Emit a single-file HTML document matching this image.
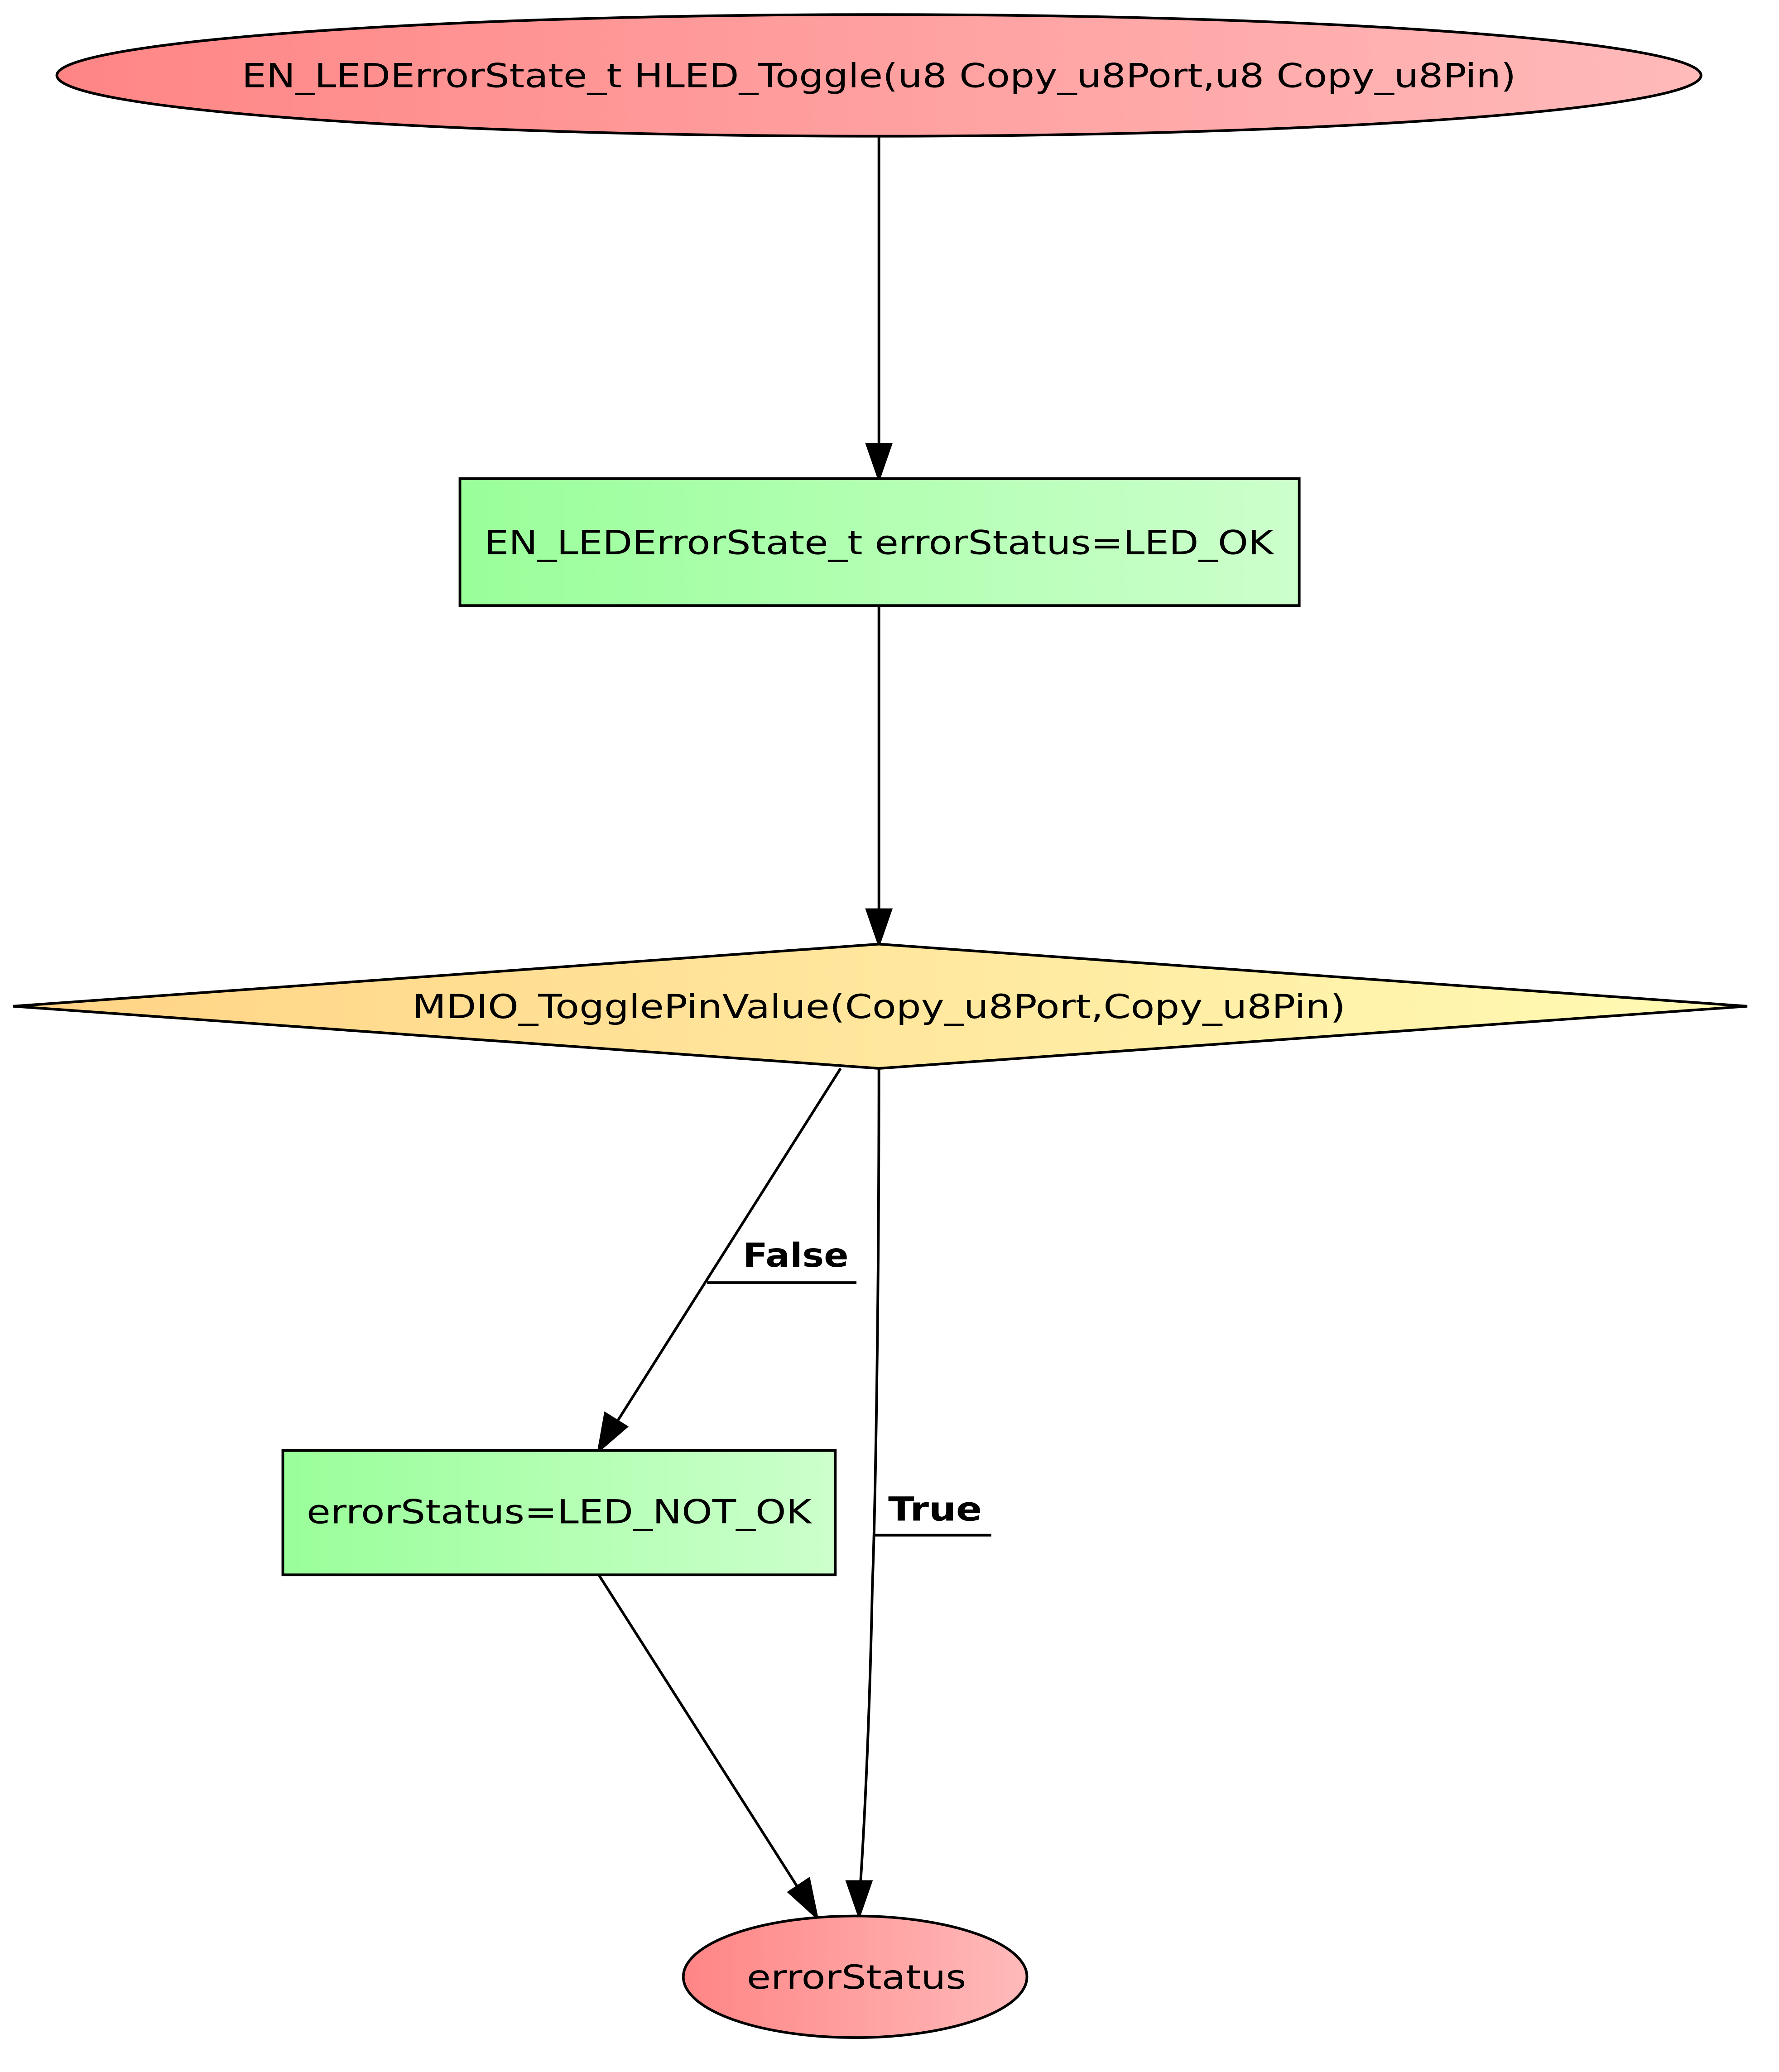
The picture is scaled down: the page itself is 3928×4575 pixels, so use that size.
<!DOCTYPE html>
<html><head><meta charset="utf-8"><style>
html,body{margin:0;padding:0;background:#fff;}
svg{display:block;}
text{font-family:"DejaVu Sans","Liberation Sans",sans-serif;}
</style></head><body>
<svg width="3928" height="4575" viewBox="0 0 1346 1567" preserveAspectRatio="none" xmlns="http://www.w3.org/2000/svg">
<defs>
<linearGradient id="gr" x1="0" x2="1" y1="0" y2="0"><stop offset="0" stop-color="#ff8585"/><stop offset="1" stop-color="#ffbaba"/></linearGradient>
<linearGradient id="gg" x1="0" x2="1" y1="0" y2="0"><stop offset="0" stop-color="#99ff99"/><stop offset="1" stop-color="#ccffcc"/></linearGradient>
<linearGradient id="gy" x1="0" x2="1" y1="0" y2="0"><stop offset="0" stop-color="#ffd385"/><stop offset="1" stop-color="#fffbb5"/></linearGradient>
</defs>
<g stroke="#000" stroke-width="2" fill="none">
<line x1="665" y1="103" x2="665" y2="338"/>
<line x1="665" y1="458" x2="665" y2="690"/>
<line x1="636" y1="808" x2="467" y2="1075"/>
<path d="M665 808 C665 1000 662 1150 660 1200 C658 1300 654 1380 651 1425"/>
<line x1="453" y1="1191" x2="604" y2="1428"/>
<line x1="535" y1="970" x2="648" y2="970"/>
<line x1="662" y1="1161" x2="750" y2="1161"/>
</g>
<g fill="#000" stroke="#000" stroke-width="2">
<polygon points="656,336 674,336 665,362"/>
<polygon points="656,688 674,688 665,714"/>
<polygon points="458,1069 474,1079 453,1097"/>
<polygon points="641,1423 659,1423 650,1449"/>
<polygon points="597,1431 612,1421 618,1450"/>
</g>
<g stroke="#000" stroke-width="2">
<ellipse cx="665" cy="57" rx="622" ry="46" fill="url(#gr)"/>
<rect x="348" y="362" width="635" height="96" fill="url(#gg)"/>
<polygon points="10,761 665,714 1322,761 665,808" fill="url(#gy)"/>
<rect x="214" y="1097" width="418" height="94" fill="url(#gg)"/>
<ellipse cx="647" cy="1495" rx="130" ry="46" fill="url(#gr)"/>
</g>
<g font-size="25" fill="#000" text-anchor="middle">
<text x="665" y="66" textLength="964" lengthAdjust="spacingAndGlyphs">EN_LEDErrorState_t HLED_Toggle(u8 Copy_u8Port,u8 Copy_u8Pin)</text>
<text x="665" y="419" textLength="597" lengthAdjust="spacingAndGlyphs">EN_LEDErrorState_t errorStatus=LED_OK</text>
<text x="665" y="770" textLength="706" lengthAdjust="spacingAndGlyphs">MDIO_TogglePinValue(Copy_u8Port,Copy_u8Pin)</text>
<text x="423" y="1152" textLength="382" lengthAdjust="spacingAndGlyphs">errorStatus=LED_NOT_OK</text>
<text x="648" y="1504" textLength="166" lengthAdjust="spacingAndGlyphs">errorStatus</text>
</g>
<g font-size="25" font-weight="bold" fill="#000">
<text x="562" y="958" textLength="80" lengthAdjust="spacingAndGlyphs">False</text>
<text x="672" y="1150" textLength="71" lengthAdjust="spacingAndGlyphs">True</text>
</g>
</svg>
</body></html>
